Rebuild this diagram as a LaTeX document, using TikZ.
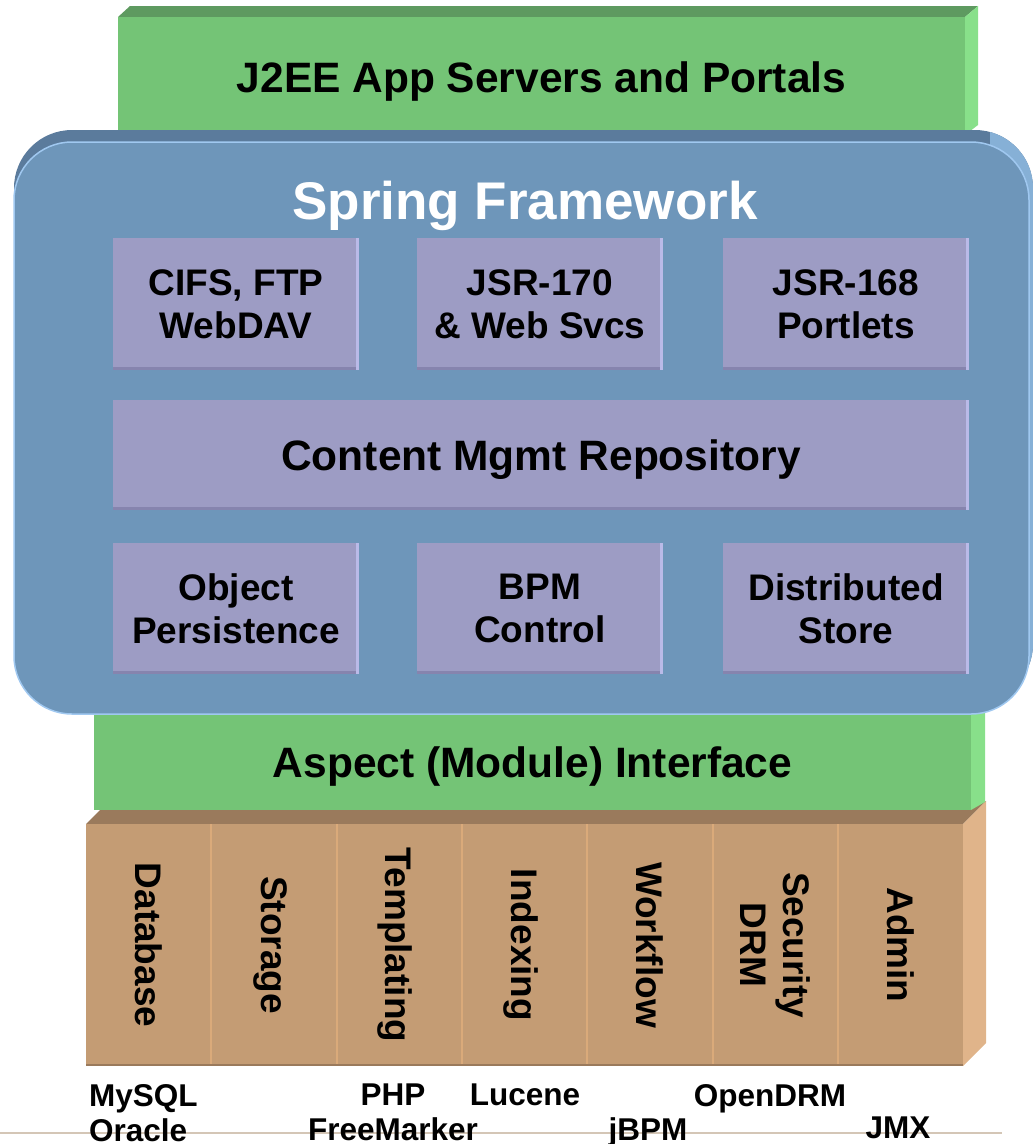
\documentclass[tikz,border=0pt]{standalone}
\usepackage{fontspec}
\setmainfont{Liberation Sans}
\usepackage{tikz}
\usetikzlibrary{positioning}
\definecolor{slabgreen}{RGB}{116,196,118}
\definecolor{slabgreentop}{RGB}{94,154,96}
\definecolor{slabgreenside}{RGB}{136,224,138}
\definecolor{springblue}{RGB}{110,150,186}
\definecolor{springbluetop}{RGB}{91,123,156}
\definecolor{springblueside}{RGB}{134,176,214}
\definecolor{springrim}{RGB}{160,200,240}
\definecolor{modpurple}{RGB}{157,156,196}
\definecolor{modpurpledark}{RGB}{134,132,174}
\definecolor{modpurplelight}{RGB}{186,186,232}
\definecolor{basebrown}{RGB}{196,156,116}
\definecolor{basebrowntop}{RGB}{154,122,92}
\definecolor{basebrownside}{RGB}{224,180,138}
\definecolor{basebrownline}{RGB}{218,170,122}
\definecolor{rulegray}{RGB}{212,198,182}

\begin{document}
\begin{tikzpicture}[
      x=1pt, y=-1pt,
      slab/.style={fill=slabgreen, inner sep=0pt, outer sep=0pt, text depth=0pt,
                   font=\fontsize{42.5}{48}\selectfont\bfseries},
      module/.style={fill=modpurple, inner sep=0pt, outer sep=0pt,
                     minimum width=246pt, minimum height=132pt,
                     align=center, text depth=0pt,
                     font=\fontsize{37}{43}\selectfont\bfseries,
                     path picture={
                       \fill[modpurpledark] (path picture bounding box.south west)
                         rectangle ([yshift=3pt]path picture bounding box.south east);
                       \fill[modpurplelight] ([xshift=-3pt]path picture bounding box.north east)
                         rectangle (path picture bounding box.south east);}},
      column/.style={rotate=-90, align=center, inner sep=0pt, text depth=0pt,
                     font=\fontsize{37}{43}\selectfont\bfseries},
      tech/.style={inner sep=0pt, align=center,
                   font=\fontsize{31.5}{35}\selectfont\bfseries},
    ]
    \useasboundingbox (0,0) rectangle (1033,1144);

    % base layer
    \fill[basebrowntop] (86,824) -- (109,801) -- (986,801) -- (963,824) -- cycle;
    \fill[basebrownside] (963,824) -- (986,801) -- (986,1043) -- (963,1066) -- cycle;
    \node[fill=basebrown, inner sep=0pt, outer sep=0pt,
          minimum width=877pt, minimum height=242pt] (base) at (524.5,945) {};
    \foreach \i in {1,...,6}
      \draw[basebrownline, line width=2pt] ([xshift=125.3*\i]base.north west)
        -- ([xshift=125.3*\i]base.south west);
    \draw[basebrowntop, line width=2pt] ([yshift=1pt]base.south west)
      -- ([yshift=1pt]base.south east);
    \foreach \name/\txt [count=\i] in {dbcol/Database, storagecol/Storage,
        tmplcol/Templating, indexcol/Indexing, flowcol/Workflow,
        seccol/{Security\\DRM}, admincol/Admin}
      \node[column] (\name) at ({86+125.3*(\i-0.5)},945) {\txt};

    % green layers
    \fill[slabgreenside] (971,705) -- (985,705) -- (985,802) -- (971,810) -- cycle;
    \node[slab, minimum width=877pt, minimum height=96pt] (aspect) at (532.5,762)
      {Aspect (Module) Interface};
    \fill[slabgreentop] (118,17) -- (130,6) -- (978,6) -- (965,17) -- cycle;
    \fill[slabgreenside] (965,17) -- (978,6) -- (978,125) -- (965,135) -- cycle;
    \node[slab, minimum width=847pt, minimum height=120pt] (j2ee) at (541.5,77)
      {J2EE App Servers and Portals};

    % spring container
    \fill[springbluetop, rounded corners=58pt] (14,130) rectangle (1033,702);
    \begin{scope}
      \clip (990,120) rectangle (1040,720);
      \fill[springblueside, rounded corners=58pt] (14,130) rectangle (1033,702);
    \end{scope}
    \node[fill=springblue, draw=springrim, line width=1.5pt, rounded corners=58pt,
          inner sep=0pt, minimum width=1015pt, minimum height=572pt] (spring) at (521.5,428) {};
    \node[text=white, inner sep=0pt, text depth=0pt,
          font=\fontsize{53}{60}\selectfont\bfseries] (title) at (525,200) {Spring Framework};

    \node[module] (cifs) at (236,304) {CIFS, FTP\\WebDAV};
    \node[module, right=58pt of cifs] (jsr170) {JSR-170\\\& Web Svcs};
    \node[module, right=60pt of jsr170] (jsr168) {JSR-168\\Portlets};
    \node[module, minimum width=856pt, minimum height=110pt, font=\fontsize{42.5}{48}\selectfont\bfseries,
          below=30pt of cifs.south west, anchor=north west] (repo) {Content Mgmt Repository};
    \node[module, minimum height=131pt,
          below=33pt of repo.south west, anchor=north west] (persist) {Object\\Persistence};
    \node[module, minimum height=131pt, right=58pt of persist] (bpm) {BPM\\Control};
    \node[module, minimum height=131pt, right=60pt of bpm] (dstore) {Distributed\\Store};

    % products under the base
    \draw[rulegray, line width=2pt] (0,1133) -- (1002,1133);
    \node[tech, align=left, anchor=north west] (mysql) at (89,1084) {MySQL\\Oracle};
    \node[tech, anchor=north] (php) at (393,1084) {PHP\\FreeMarker};
    \node[tech, anchor=north] (lucene) at (525,1084) {Lucene};
    \node[tech, anchor=north] (jbpm) at (648,1117) {jBPM};
    \node[tech, anchor=north] (opendrm) at (770,1084) {OpenDRM};
    \node[tech, anchor=north] (jmx) at (898,1117) {JMX};
  \end{tikzpicture}
\end{document}
